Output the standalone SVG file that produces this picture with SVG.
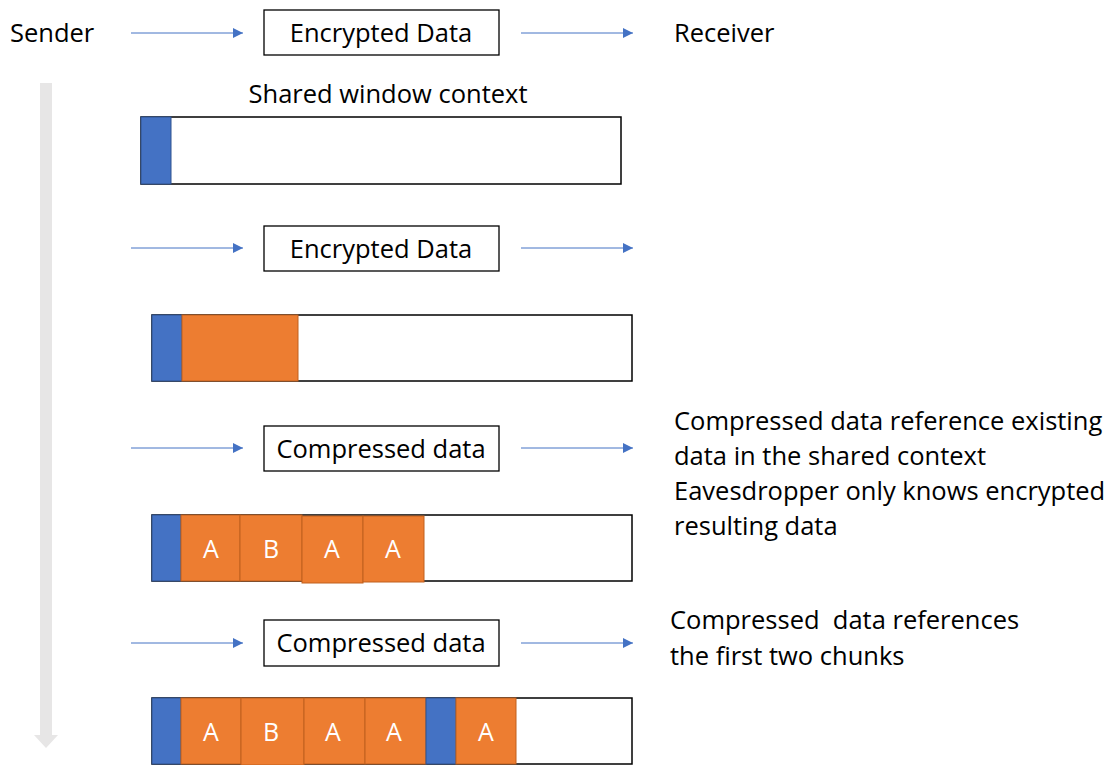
<svg xmlns="http://www.w3.org/2000/svg" width="1114" height="765" viewBox="0 0 1114 765">
<style>
text{font-family:"Open Sans","Liberation Sans",sans-serif;fill:#000}
.lbl{font-size:25.5px}
.box{fill:#fff;stroke:#000;stroke-width:1.3}
.win{fill:#fff;stroke:#000;stroke-width:1.5}
.blue{fill:#4472C4;stroke:#2F528F;stroke-width:1}
.org{fill:#ED7D31;stroke:#C0601E;stroke-width:1}
.seg{font-size:25px;fill:#fff;text-anchor:middle}
.conn{stroke:#4472C4;stroke-width:1;fill:none;marker-end:url(#ah)}
.bt{font-size:25.5px;text-anchor:middle}
</style>
<defs>
<marker id="ah" viewBox="0 0 10 10" refX="10" refY="5" markerWidth="10" markerHeight="10" markerUnits="userSpaceOnUse" orient="auto">
<path d="M0,0 L10,5 L0,10 z" fill="#4472C4"/>
</marker>
</defs>
<g id="timeline">
<path d="M40,83 H52 V735 H58 L46,748 L34,735 H40 Z" fill="#E7E6E6"/>
</g>
<g id="sender"><text class="lbl" x="10" y="42">Sender</text></g>
<g id="receiver"><text class="lbl" x="674" y="42">Receiver</text></g>
<g id="box1"><rect class="box" x="264" y="10" width="235" height="45"/><text class="bt" x="381" y="42">Encrypted Data</text></g>
<g id="shared-label"><text class="lbl" x="388" y="103" text-anchor="middle">Shared window context</text></g>
<g id="window1">
<rect class="win" x="141" y="117" width="480" height="67"/>
<rect class="blue" x="141" y="117" width="30" height="67"/>
</g>
<g id="box2"><rect class="box" x="264" y="226" width="235" height="45"/><text class="bt" x="381" y="258">Encrypted Data</text></g>
<g id="window2">
<rect class="win" x="152" y="315" width="480" height="66"/>
<rect class="blue" x="152" y="315" width="30" height="66"/>
<rect class="org" x="182" y="315" width="116" height="66"/>
</g>
<g id="box3"><rect class="box" x="264" y="426" width="235" height="45"/><text class="bt" x="381" y="458">Compressed data</text></g>
<g id="note1">
<text class="lbl" x="674" y="430">Compressed data reference existing</text>
<text class="lbl" x="674" y="465">data in the shared context</text>
<text class="lbl" x="674" y="500">Eavesdropper only knows encrypted</text>
<text class="lbl" x="674" y="535">resulting data</text>
</g>
<g id="window3">
<rect class="win" x="152" y="515" width="480" height="66"/>
<rect class="blue" x="152" y="515" width="29" height="66"/>
<rect class="org" x="181" y="515" width="59" height="66"/>
<rect class="org" x="240" y="515" width="62" height="66"/>
<rect class="org" x="302" y="516" width="61" height="67"/>
<rect class="org" x="363" y="516" width="61" height="66"/>
<text class="seg" x="211" y="558">A</text>
<text class="seg" x="271" y="558">B</text>
<text class="seg" x="332" y="558">A</text>
<text class="seg" x="393" y="558">A</text>
</g>
<g id="box4"><rect class="box" x="264" y="620" width="235" height="46"/><text class="bt" x="381" y="652">Compressed data</text></g>
<g id="note2">
<text class="lbl" x="670" y="629" xml:space="preserve">Compressed  data references</text>
<text class="lbl" x="670" y="665">the first two chunks</text>
</g>
<g id="window4">
<rect class="win" x="152" y="698" width="480" height="66"/>
<rect class="blue" x="152" y="698" width="29" height="66"/>
<rect class="org" x="181" y="698" width="60" height="66"/>
<rect class="org" x="241" y="698" width="63" height="67"/>
<rect class="org" x="304" y="698" width="61" height="66"/>
<rect class="org" x="365" y="698" width="61" height="66"/>
<rect class="blue" x="426" y="698" width="30" height="66"/>
<rect class="org" x="456" y="698" width="60" height="66"/>
<text class="seg" x="211" y="741">A</text>
<text class="seg" x="271" y="741">B</text>
<text class="seg" x="333" y="741">A</text>
<text class="seg" x="394" y="741">A</text>
<text class="seg" x="486" y="741">A</text>
</g>
<g id="connectors">
<line class="conn" x1="131" y1="33" x2="243" y2="33"/>
<line class="conn" x1="521" y1="33" x2="633" y2="33"/>
<line class="conn" x1="131" y1="248" x2="243" y2="248"/>
<line class="conn" x1="521" y1="248" x2="633" y2="248"/>
<line class="conn" x1="131" y1="448" x2="243" y2="448"/>
<line class="conn" x1="521" y1="448" x2="633" y2="448"/>
<line class="conn" x1="131" y1="643" x2="243" y2="643"/>
<line class="conn" x1="521" y1="643" x2="633" y2="643"/>
</g>
</svg>
